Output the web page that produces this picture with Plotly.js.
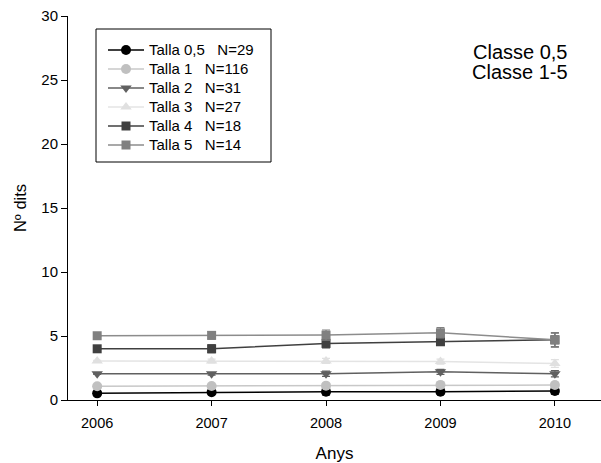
<!DOCTYPE html>
<html>
<head>
<meta charset="utf-8">
<script src="https://cdn.plot.ly/plotly-3.0.1.min.js"></script>
<style>html,body{margin:0;padding:0;background:#fff;}#chart{width:601px;height:463px;}</style>
</head>
<body>
<div id="chart"></div>
<script>
var years = [2006, 2007, 2008, 2009, 2010];
var seriesNames = ["Talla 0,5   N=29", "Talla 1   N=116", "Talla 2   N=31", "Talla 3   N=27", "Talla 4   N=18", "Talla 5   N=14"];
var talla05 = [0.52, 0.60, 0.65, 0.65, 0.70];
var talla1  = [1.07, 1.10, 1.12, 1.18, 1.17];
var talla2  = [2.05, 2.05, 2.05, 2.20, 2.05];
var talla3  = [3.05, 3.05, 3.05, 3.00, 2.85];
var talla4  = [4.00, 4.00, 4.42, 4.55, 4.70];
var talla5  = [5.02, 5.05, 5.07, 5.25, 4.70];
var err05 = [0.05, 0.10, 0.25, 0.20, 0.25];
var err1  = [0.05, 0.10, 0.15, 0.15, 0.20];
var err2  = [0.05, 0.10, 0.20, 0.20, 0.25];
var err3  = [0.05, 0.15, 0.20, 0.20, 0.30];
var err4  = [0.05, 0.30, 0.35, 0.25, 0.55];
var err5  = [0.05, 0.30, 0.40, 0.40, 0.55];

var values = [talla05, talla1, talla2, talla3, talla4, talla5];
var errors = [err05, err1, err2, err3, err4, err5];
var markerColors = ["#000000", "#c0c0c0", "#606060", "#e0e0e0", "#404040", "#808080"];
var lineColors = ["#000000", "#c8c8c8", "#606060", "#e4e4e4", "#404040", "#8c8c8c"];
var symbols = ["circle", "circle", "triangle-down", "triangle-up", "square", "square"];
var sizes = [10, 10, 10, 10, 9, 9];

var traces = [];
for (var i = 0; i < values.length; i++) {
  traces.push({
    x: years, y: values[i],
    name: '<span style="font-size:15px">' + seriesNames[i] + '</span>',
    type: "scatter", mode: "lines+markers",
    line: {color: lineColors[i], width: 1.5},
    marker: {color: markerColors[i], symbol: symbols[i], size: sizes[i], line: {width: 0}},
    error_y: {type: "data", array: errors[i], visible: true, color: markerColors[i], thickness: 1.2, width: 4}
  });
}

var layout = {
  width: 601, height: 463,
  margin: {l: 68, r: 0, t: 16, b: 63},
  paper_bgcolor: "#ffffff", plot_bgcolor: "#ffffff",
  font: {family: "Liberation Sans, Arial, sans-serif", size: 14, color: "#000"},
  showlegend: true,
  legend: {
    x: (103 - 68) / 533, y: (400 - 35.5) / 384, xanchor: "left", yanchor: "top",
    bgcolor: "rgba(0,0,0,0)", borderwidth: 0,
    font: {family: "Liberation Sans, Arial, sans-serif", size: 12, color: "#000"},
    tracegroupgap: 0, itemwidth: 36
  },
  xaxis: {
    range: [2005.745, 2010.403],
    tickmode: "array", tickvals: years, ticktext: years.map(String),
    showgrid: false, zeroline: false, showline: true, linecolor: "#000", linewidth: 1,
    ticks: "outside", ticklen: 5, tickcolor: "#000", ticklabelstandoff: 5,
    tickfont: {size: 14.5},
    title: {text: "Anys", font: {size: 17}, standoff: 17}
  },
  yaxis: {
    range: [0, 30], dtick: 5, tick0: 0,
    showgrid: false, zeroline: false, showline: true, linecolor: "#000", linewidth: 1,
    ticks: "outside", ticklen: 6, tickcolor: "#000",
    tickfont: {size: 15},
    title: {text: "Nº dits", font: {size: 16.5}, standoff: 10}
  },
  shapes: [
    {type: "rect", xref: "paper", yref: "paper",
     x0: (96 - 68) / 533, x1: (271 - 68) / 533,
     y0: (400 - 162) / 384, y1: (400 - 29) / 384,
     line: {color: "#000", width: 1}, fillcolor: "rgba(0,0,0,0)"}
  ],
  annotations: [
    {xref: "paper", yref: "paper", x: (520 - 68) / 533, y: (400 - 52) / 384, text: "Classe 0,5",
     showarrow: false, xanchor: "center", yanchor: "middle", font: {size: 20}},
    {xref: "paper", yref: "paper", x: (520 - 68) / 533, y: (400 - 72) / 384, text: "Classe 1-5",
     showarrow: false, xanchor: "center", yanchor: "middle", font: {size: 20}}
  ]
};

Plotly.newPlot("chart", traces, layout, {displayModeBar: false, staticPlot: true});
</script>
</body>
</html>
